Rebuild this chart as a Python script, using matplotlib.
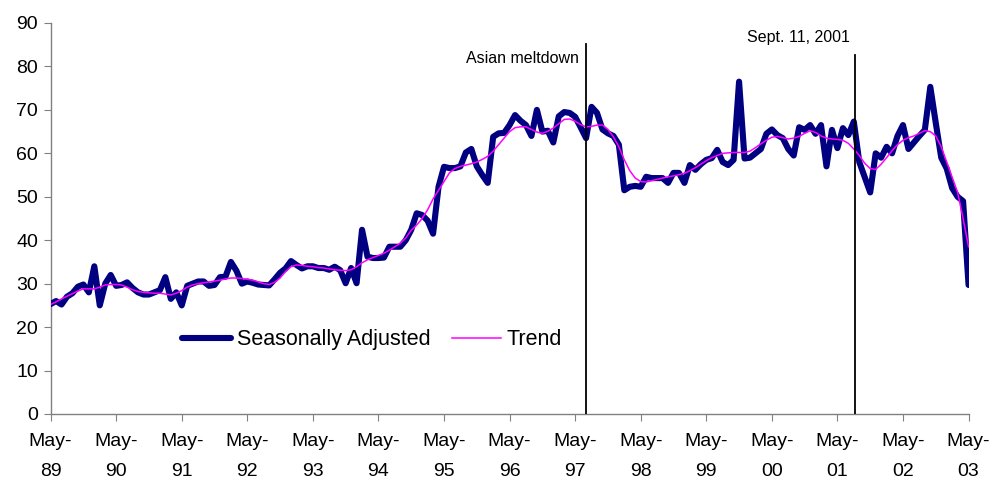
import matplotlib
matplotlib.use("Agg")
import matplotlib.pyplot as plt
import numpy as np

plt.rcParams['font.family'] = ['Liberation Sans', 'DejaVu Sans']

# Monthly index, May 1989 .. May 2003
years = ["89", "90", "91", "92", "93", "94", "95", "96", "97", "98", "99", "00", "01", "02", "03"]
tick_labels = ["May-\n" + y for y in years]

seasonally_adjusted = [
    25.3, 26.0, 25.2, 27.0, 27.8, 29.3, 29.8, 28.0, 34.0, 25.0, 30.0, 32.0,
    29.5, 29.7, 30.3, 29.0, 28.0, 27.5, 27.5, 28.0, 28.5, 31.5, 26.5, 28.0,
    25.0, 29.5, 30.0, 30.5, 30.5, 29.5, 29.7, 31.5, 31.6, 35.0, 33.0, 30.0,
    30.5, 30.2, 29.8, 29.7, 29.6, 31.0, 32.5, 33.5, 35.2, 34.3, 33.5, 34.0,
    34.0, 33.6, 33.6, 33.2, 33.9, 33.1, 30.1, 33.6, 30.1, 42.4, 36.2, 35.9,
    35.9, 36.0, 38.5, 38.5, 38.5, 40.0, 42.4, 46.2, 45.8, 44.5, 41.5, 52.3,
    56.9, 56.6, 56.6, 57.0, 60.2, 61.0, 57.0, 55.0, 53.2, 63.8, 64.6, 64.7,
    66.5, 68.8, 67.5, 66.5, 64.0, 70.0, 65.0, 65.2, 62.5, 68.5, 69.5, 69.3,
    68.4, 66.0, 63.5, 70.7, 69.3, 65.5, 64.6, 64.0, 62.0, 51.5, 52.3, 52.5,
    52.3, 54.6, 54.3, 54.3, 54.3, 53.2, 55.5, 55.5, 53.2, 57.3, 56.2, 57.5,
    58.5, 58.9, 60.8, 58.0, 57.3, 58.5, 76.5, 58.8, 59.0, 60.0, 61.0, 64.5,
    65.5, 64.2, 63.5, 61.0, 59.5, 66.0, 65.4, 66.5, 64.5, 66.5, 57.0, 65.4,
    61.2, 65.8, 64.2, 67.3, 58.0, 54.5, 51.0, 60.0, 59.0, 61.5, 60.0, 64.0,
    66.5, 61.0, 62.5, 64.0, 65.4, 75.3, 67.0, 59.0, 56.5, 52.0, 50.0, 49.0,
    29.7,
]

trend = [
    25.2, 25.8, 26.5, 27.1, 27.7, 28.3, 28.8, 28.8, 28.8, 29.2, 29.7, 29.8,
    29.8, 29.7, 29.2, 28.6, 28.2, 28.0, 27.9, 27.8, 27.8, 27.6, 27.4, 27.8,
    28.4, 29.2, 29.7, 30.0, 30.2, 30.4, 30.6, 30.8, 31.1, 31.3, 31.3, 31.2,
    31.0, 30.8, 30.4, 30.0, 29.8, 30.3, 31.3, 32.8, 33.9, 34.3, 34.2, 34.0,
    33.9, 33.7, 33.6, 33.4, 33.2, 33.1, 33.0, 33.2, 33.9, 34.8, 35.5, 36.0,
    36.5, 37.0, 37.7, 38.5, 39.3, 40.5, 42.3, 43.5, 45.0, 47.0, 49.5, 51.5,
    53.5, 55.5, 56.5, 57.0, 57.3, 57.6, 58.0, 58.6, 59.3, 60.5, 62.0, 63.5,
    65.0, 65.9, 66.1, 66.1, 65.5, 64.9, 64.6, 65.1, 65.8, 66.8, 67.8, 67.9,
    67.4, 66.6, 66.1, 66.2, 66.5, 66.5, 65.5, 63.8, 61.5, 58.5, 56.0, 54.3,
    53.5, 53.4, 53.7, 54.0, 54.3, 54.6, 54.8, 55.1, 55.4, 56.0, 56.7, 57.5,
    58.3, 59.0, 59.5, 60.0, 60.1, 60.2, 60.2, 60.2, 60.5, 61.3, 62.2, 63.0,
    63.7, 63.9, 63.6, 63.3, 63.5, 63.9, 64.6, 65.2, 64.8, 64.0, 63.5, 63.3,
    63.2, 63.0, 62.3, 61.0, 59.5, 57.7, 56.5, 56.3, 57.5, 59.0, 60.6, 62.0,
    63.0, 63.6, 64.0, 64.6, 65.2, 65.0, 64.0, 61.5, 58.0, 54.5, 51.0, 45.0,
    38.5,
]

# Event markers (month index since May 1989)
asian_month = 97.9
asian_label = "Asian meltdown"
sept_month = 147.2
sept_label = "Sept. 11, 2001"

months = np.arange(len(seasonally_adjusted))

fig = plt.figure(figsize=(9.94, 4.87), dpi=100)
ax = fig.add_axes([0.0509, 0.1499, 0.9235, 0.8029])

ax.plot(months, seasonally_adjusted, color="#000080", lw=4.4,
        solid_joinstyle="round", solid_capstyle="round", label="Seasonally Adjusted", zorder=3)
ax.plot(months, trend, color="#FF00FF", lw=1.1, label="Trend", zorder=4)

ax.plot([asian_month, asian_month], [0, 85.2], color="black", lw=1.3, zorder=5)
ax.plot([sept_month, sept_month], [0, 82.6], color="black", lw=1.3, zorder=5)
ax.text(asian_month - 1.2, 81.8, asian_label, ha="right", va="center", fontsize=11.5)
ax.text(sept_month - 1.0, 86.6, sept_label, ha="right", va="center", fontsize=11.5)

ax.set_xlim(0, 168)
ax.set_ylim(0, 90)
ax.set_yticks(np.arange(0, 91, 10))
ax.set_xticks(np.arange(0, 169, 12))
ax.set_xticklabels(tick_labels, linespacing=2.0)

for s in ("top", "right"):
    ax.spines[s].set_visible(False)
for s in ("left", "bottom"):
    ax.spines[s].set_color("#808080")
    ax.spines[s].set_linewidth(1.0)
ax.tick_params(axis="both", colors="#808080", labelcolor="black", labelsize=14, length=5)
ax.tick_params(axis="x", pad=9)
ax.tick_params(axis="y", pad=4)

ax.legend(loc="center", bbox_to_anchor=(0.35, 0.19), ncol=2, frameon=False,
          fontsize=15.5, handlelength=2.3, handletextpad=0.25, columnspacing=1.0)

fig.savefig("out.png", dpi=100)
